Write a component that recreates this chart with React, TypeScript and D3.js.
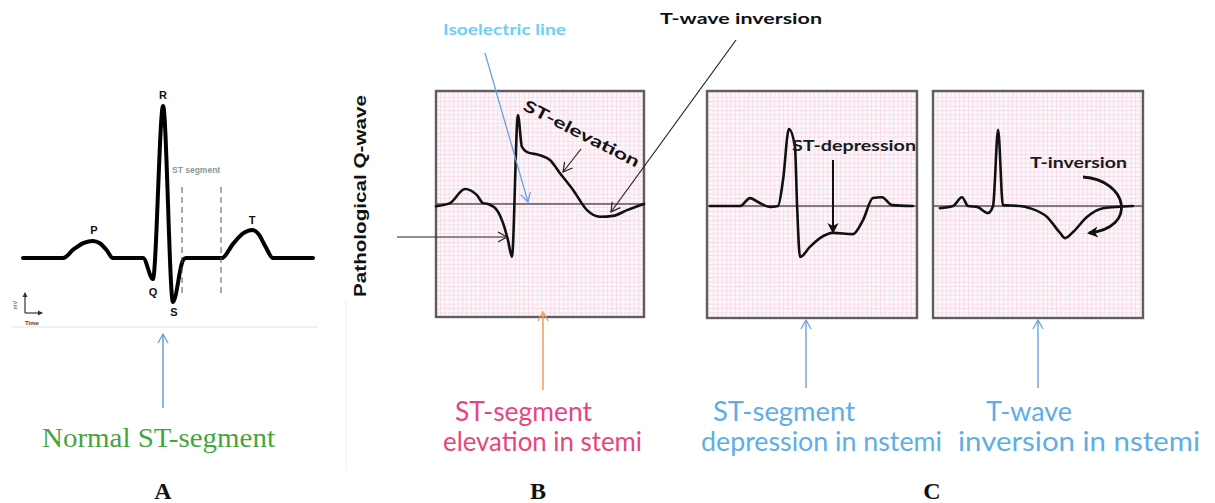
import React from "react";
import * as d3 from "d3";

// ---- Waveform data (time in % of panel width, amplitude in grid units; 0 = isoelectric) ----
const normalT = [0, 13.8, 17.5, 21, 24.1, 26.5, 28.8, 31, 41.4, 44.8, 48.3, 51.7, 55.2, 56.2, 68.6, 72.5, 76, 79, 81.2, 83.5, 86.2, 100];
const normalV = [0, 0, 2.2, 3.8, 4.25, 3.7, 2.0, 0, 0, -5.25, 38, -11, -0.5, 0, 0, 3.6, 6.2, 7, 6, 3, 0, 0];

const stemiT = [0, 6.7, 13.9, 19.7, 22.6, 25, 29.3, 32.2, 34.6, 36.5, 39.4, 41.3, 43.8, 50, 54.8, 59.6, 65.9, 72.6, 78.8, 85.1, 91.8, 100];
const stemiV = [-0.5, 0.2, 3.4, 2.0, 0.2, 0, -1.4, -4.3, -8.2, -12, 20.2, 13, 11.8, 11.1, 10, 7, 3.2, -1.4, -2.9, -2.7, -1.4, 0];

const stDepT = [1.4, 15.7, 20.5, 24.3, 30, 33.8, 36.2, 39, 41.9, 42.9, 44.3, 49, 53.8, 60, 69.5, 74.3, 79, 83.3, 88.1, 98];
const stDepV = [0, 0, 1.8, 0.9, -0.2, 0, 5.9, 17.5, 13.4, 0, -11.6, -9.3, -7.3, -6.1, -6.4, -3.2, 1.8, 2, 0.2, 0];

const tInvT = [3.3, 9.5, 13.8, 16.7, 21, 26.2, 28.6, 31, 33.3, 41.4, 46.2, 54.3, 60.5, 62.9, 66.7, 73.3, 81, 95.2];
const tInvV = [-0.5, 0, 2, 0, -0.2, -1.6, 0, 17.3, 0.2, 0, -0.5, -2.5, -6.1, -7.3, -5.9, -2.5, -0.5, 0];

const panelLetters = ["A", "B", "C"];
const bottomLabelsB = ["ST-segment", "elevation in stemi"];
const bottomLabelsC1 = ["ST-segment", "depression in nstemi"];
const bottomLabelsC2 = ["T-wave", "inversion in nstemi"];

type Panel = { left: number; right: number; top: number; bottom: number; iso: number; unit: number };

const pA: Panel = { left: 23, right: 313, top: 0, bottom: 0, iso: 258, unit: 4 };
const pB: Panel = { left: 436, right: 644, top: 91, bottom: 317, iso: 204, unit: 4.4 };
const pC1: Panel = { left: 707, right: 917, top: 91, bottom: 318, iso: 206, unit: 4.4 };
const pC2: Panel = { left: 933, right: 1143, top: 91, bottom: 318, iso: 206, unit: 4.4 };

function wavePath(p: Panel, t: number[], v: number[], curve: d3.CurveFactory = d3.curveMonotoneX) {
  const x = d3.scaleLinear().domain([0, 100]).range([p.left, p.right]);
  const y = d3.scaleLinear().domain([0, 1]).range([p.iso, p.iso - p.unit]);
  const line = d3
    .line<number>()
    .x((_, i) => x(t[i]))
    .y((d) => y(d))
    .curve(curve);
  return line(v) || "";
}

const ECGBox = ({ p, id }: { p: Panel; id: string }) => (
  <g>
    <rect x={p.left} y={p.top} width={p.right - p.left} height={p.bottom - p.top} fill={`url(#${id})`} />
    <line x1={p.left} x2={p.right} y1={p.iso} y2={p.iso} stroke="#555" strokeWidth={1.3} />
    <rect x={p.left} y={p.top} width={p.right - p.left} height={p.bottom - p.top} fill="none" stroke="#5e5e5e" strokeWidth={2.4} />
  </g>
);

export default function App() {
  const bold = "Lato, 'Open Sans', sans-serif";
  const blue = "#6aa3df";
  return (
    <svg width={1215} height={503} style={{ position: "absolute", left: 0, top: 0, background: "#fff" }} viewBox="0 0 1215 503">
      <defs>
        {["gB", "gC1", "gC2"].map((id) => (
          <pattern key={id} id={id} width={4.4} height={4.4} patternUnits="userSpaceOnUse">
            <rect width={4.4} height={4.4} fill="#fdf6fa" />
            <path d="M0,0.4 H4.4 M0.4,0 V4.4" stroke="#f3d9e7" strokeWidth={0.8} />
          </pattern>
        ))}
        <marker id="openBlack" markerUnits="userSpaceOnUse" markerWidth={14} markerHeight={14} refX={10} refY={7} orient="auto">
          <path d="M1,2 L10,7 L1,12" fill="none" stroke="#222" strokeWidth={1.2} />
        </marker>
        <marker id="openBlue" markerUnits="userSpaceOnUse" markerWidth={14} markerHeight={14} refX={10} refY={7} orient="auto">
          <path d="M1,2 L10,7 L1,12" fill="none" stroke={blue} strokeWidth={1.3} />
        </marker>
        <marker id="openOrange" markerUnits="userSpaceOnUse" markerWidth={14} markerHeight={14} refX={10} refY={7} orient="auto">
          <path d="M1,2 L10,7 L1,12" fill="none" stroke="#f2a264" strokeWidth={1.4} />
        </marker>
        <marker id="filledBlack" markerUnits="userSpaceOnUse" markerWidth={14} markerHeight={14} refX={9} refY={7} orient="auto">
          <path d="M0,1.5 L11,7 L0,12.5 L3,7 Z" fill="#111" />
        </marker>
        <marker id="smallArrow" markerUnits="userSpaceOnUse" markerWidth={6} markerHeight={6} refX={4} refY={3} orient="auto">
          <path d="M0,0.5 L5,3 L0,5.5 Z" fill="#333" />
        </marker>
      </defs>

      {/* separators */}
      <line x1={12} x2={318} y1={327} y2={327} stroke="#e2e2e2" strokeWidth={1} />
      <line x1={346} x2={346} y1={300} y2={470} stroke="#f0f0f0" strokeWidth={1} />

      {/* ---------- Panel A ---------- */}
      <path d={wavePath(pA, normalT, normalV)} fill="none" stroke="#000" strokeWidth={4} strokeLinejoin="round" strokeLinecap="round" />
      <g fontFamily="'Liberation Sans', Arial, sans-serif" fontWeight="bold" fontSize={11} fill="#111" textAnchor="middle">
        <text x={163} y={99}>R</text>
        <text x={94} y={234}>P</text>
        <text x={252} y={224}>T</text>
        <text x={153} y={296}>Q</text>
        <text x={174} y={316}>S</text>
      </g>
      <text x={172} y={173} fontFamily="'Liberation Sans', Arial, sans-serif" fontSize={8.5} fontWeight="bold" fill="#8a9a96">ST segment</text>
      <line x1={182} x2={182} y1={187} y2={293} stroke="#555" strokeWidth={1} strokeDasharray="6,4" />
      <line x1={221} x2={221} y1={187} y2={293} stroke="#555" strokeWidth={1} strokeDasharray="6,4" />
      {/* mini axis */}
      <line x1={25} y1={313} x2={25} y2={293} stroke="#333" strokeWidth={1.2} markerEnd="url(#smallArrow)" />
      <line x1={25} y1={313} x2={42} y2={313} stroke="#333" strokeWidth={1.2} markerEnd="url(#smallArrow)" />
      <text transform="translate(17,305) rotate(-90)" fontSize={5.5} fontFamily="Arial" fill="#444" textAnchor="middle">mV</text>
      <text x={32} y={325} fontSize={6} fontWeight="bold" fontFamily="Arial" fill="#444" textAnchor="middle">Time</text>
      {/* arrow + label */}
      <line x1={163} y1={408} x2={163} y2={334} stroke={blue} strokeWidth={1.6} markerEnd="url(#openBlue)" />
      <text x={42} y={447} fontFamily="'Liberation Serif', 'Times New Roman', serif" fontSize={27} fill="#44a53c" textLength={233} lengthAdjust="spacingAndGlyphs">Normal ST-segment</text>

      {/* ---------- Panel B ---------- */}
      <ECGBox p={pB} id="gB" />
      <path d={wavePath(pB, stemiT, stemiV)} fill="none" stroke="#111" strokeWidth={2.6} strokeLinejoin="round" strokeLinecap="round" />
      <text transform="translate(362,196) rotate(-90)" fontFamily="'Liberation Sans', Arial, sans-serif" fontWeight="bold" fontSize={17} fill="#111" textAnchor="middle" dominantBaseline="middle" textLength={202} lengthAdjust="spacingAndGlyphs">Pathological Q-wave</text>
      <line x1={397} y1={237} x2={507} y2={237} stroke="#222" strokeWidth={1.2} markerEnd="url(#openBlack)" />
      <text x={443} y={35} fontFamily={bold} fontWeight="bold" fontSize={16} fill="#6dd0f2" textLength={123} lengthAdjust="spacingAndGlyphs">Isoelectric line</text>
      <line x1={485} y1={53} x2={528} y2={202} stroke={blue} strokeWidth={1.3} markerEnd="url(#openBlue)" />
      <text x={660} y={24} fontFamily={bold} fontWeight="bold" fontSize={16} fill="#111" textLength={162} lengthAdjust="spacingAndGlyphs">T-wave inversion</text>
      <line x1={736} y1={40} x2={611} y2={212} stroke="#222" strokeWidth={1.2} markerEnd="url(#openBlack)" />
      <text transform="translate(581,135) rotate(27)" fontFamily={bold} fontWeight="bold" fontSize={16} fill="#111" textAnchor="middle" dominantBaseline="middle" textLength={128} lengthAdjust="spacingAndGlyphs">ST-elevation</text>
      <line x1={581} y1={149} x2={563} y2={172} stroke="#222" strokeWidth={1.2} markerEnd="url(#openBlack)" />
      <line x1={543} y1={390} x2={543} y2={312} stroke="#f2a264" strokeWidth={1.6} markerEnd="url(#openOrange)" />
      <g fontFamily="Lato, 'Open Sans', sans-serif" fontSize={26} fill="#e8457e">
        <text x={455} y={421} textLength={137} lengthAdjust="spacingAndGlyphs">{bottomLabelsB[0]}</text>
        <text x={443} y={451} textLength={199} lengthAdjust="spacingAndGlyphs">{bottomLabelsB[1]}</text>
      </g>

      {/* ---------- Panel C ---------- */}
      <ECGBox p={pC1} id="gC1" />
      <path d={wavePath(pC1, stDepT, stDepV)} fill="none" stroke="#111" strokeWidth={2.6} strokeLinejoin="round" strokeLinecap="round" />
      <text x={792} y={151} fontFamily={bold} fontWeight="bold" fontSize={16} fill="#1a1a1a" textLength={124} lengthAdjust="spacingAndGlyphs">ST-depression</text>
      <line x1={833} y1={160} x2={833} y2={232} stroke="#111" strokeWidth={2} markerEnd="url(#filledBlack)" />

      <ECGBox p={pC2} id="gC2" />
      <path d={wavePath(pC2, tInvT, tInvV)} fill="none" stroke="#111" strokeWidth={2.6} strokeLinejoin="round" strokeLinecap="round" />
      <text x={1030} y={168} fontFamily={bold} fontWeight="bold" fontSize={16} fill="#1a1a1a" textLength={97} lengthAdjust="spacingAndGlyphs">T-inversion</text>
      <path d="M1083,177 C1128,180 1138,228 1089,233" fill="none" stroke="#111" strokeWidth={2.8} markerEnd="url(#filledBlack)" />

      <line x1={806} y1={388} x2={806} y2={320} stroke={blue} strokeWidth={1.4} markerEnd="url(#openBlue)" />
      <line x1={1038} y1={388} x2={1038} y2={320} stroke={blue} strokeWidth={1.4} markerEnd="url(#openBlue)" />
      <g fontFamily="Lato, 'Open Sans', sans-serif" fontSize={26} fill="#5eaee6">
        <text x={713} y={421} textLength={142} lengthAdjust="spacingAndGlyphs">{bottomLabelsC1[0]}</text>
        <text x={701} y={451} textLength={241} lengthAdjust="spacingAndGlyphs">{bottomLabelsC1[1]}</text>
        <text x={986} y={421} textLength={86} lengthAdjust="spacingAndGlyphs">{bottomLabelsC2[0]}</text>
        <text x={958} y={451} textLength={242} lengthAdjust="spacingAndGlyphs">{bottomLabelsC2[1]}</text>
      </g>

      {/* panel letters */}
      <g fontFamily="'Liberation Serif', 'Times New Roman', serif" fontWeight="bold" fontSize={24} fill="#111" textAnchor="middle">
        <text x={163} y={499}>{panelLetters[0]}</text>
        <text x={538} y={499}>{panelLetters[1]}</text>
        <text x={932} y={499}>{panelLetters[2]}</text>
      </g>
    </svg>
  );
}
